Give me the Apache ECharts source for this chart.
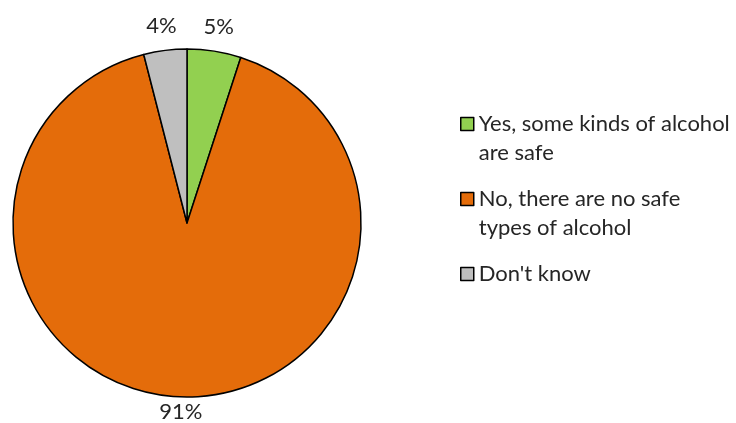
<!DOCTYPE html>
<html>
<head>
<meta charset="utf-8">
<script src="https://cdn.jsdelivr.net/npm/echarts@6/dist/echarts.min.js"></script>
<style>html,body{margin:0;padding:0;background:#fff}#c{width:736px;height:423px}</style>
</head>
<body>
<div id="c"></div>
<script>
const categories = ["Yes, some kinds of alcohol are safe", "No, there are no safe types of alcohol", "Don't know"];
const legendLines = [["Yes, some kinds of alcohol", "are safe"], ["No, there are no safe", "types of alcohol"], ["Don't know"]];
const values = [5, 91, 4];
const labels = ["5%", "91%", "4%"];
const colors = ["#92D050", "#E46C0A", "#BFBFBF"];

const FONT = "Lato";
const FS = 22;
const LH = 29;
const legendTops = [80.5, 155.5, 259.5];
const labelGaps = [14, 4, 14];

const chart = echarts.init(document.getElementById('c'), null, {renderer: 'canvas'});

const legends = categories.map((name, i) => ({
  orient: 'vertical',
  left: 460,
  top: legendTops[i],
  padding: 0,
  itemWidth: 13,
  itemHeight: 13,
  icon: 'rect',
  selectedMode: false,
  data: [name],
  itemStyle: {borderColor: '#000', borderWidth: 1.5},
  formatter: () => (legendLines[i].length > 1 ? ' \n' : '') + legendLines[i].join('\n'),
  textStyle: {
    fontFamily: FONT, fontSize: FS, color: '#262626', lineHeight: LH
  }
}));

chart.setOption({
  animation: false,
  legend: legends,
  series: [{
    type: 'pie',
    center: [187, 223],
    radius: [0, 174],
    startAngle: 90,
    clockwise: true,
    avoidLabelOverlap: false,
    data: categories.map((name, i) => ({
      name, value: values[i],
      itemStyle: {color: colors[i]},
      label: {formatter: labels[i]},
      labelLine: {length: labelGaps[i]}
    })),
    itemStyle: {borderColor: '#000', borderWidth: 1.5},
    label: {
      show: true, position: 'outside',
      fontFamily: FONT, fontSize: FS, color: '#262626'
    },
    labelLine: {show: false, length: 10, length2: 0},
    labelLayout: function (p) {
      const pts = p.labelLinePoints;
      if (!pts) return {};
      const ux0 = pts[1][0] - pts[0][0], uy0 = pts[1][1] - pts[0][1];
      const n = Math.sqrt(ux0 * ux0 + uy0 * uy0) || 1;
      const ux = ux0 / n, uy = uy0 / n;
      const w = p.labelRect.width, h = p.labelRect.height;
      return {
        x: pts[1][0] + ux * w / 2,
        y: pts[1][1] + uy * h / 2,
        align: 'center', verticalAlign: 'middle'
      };
    }
  }]
});
</script>
</body>
</html>
